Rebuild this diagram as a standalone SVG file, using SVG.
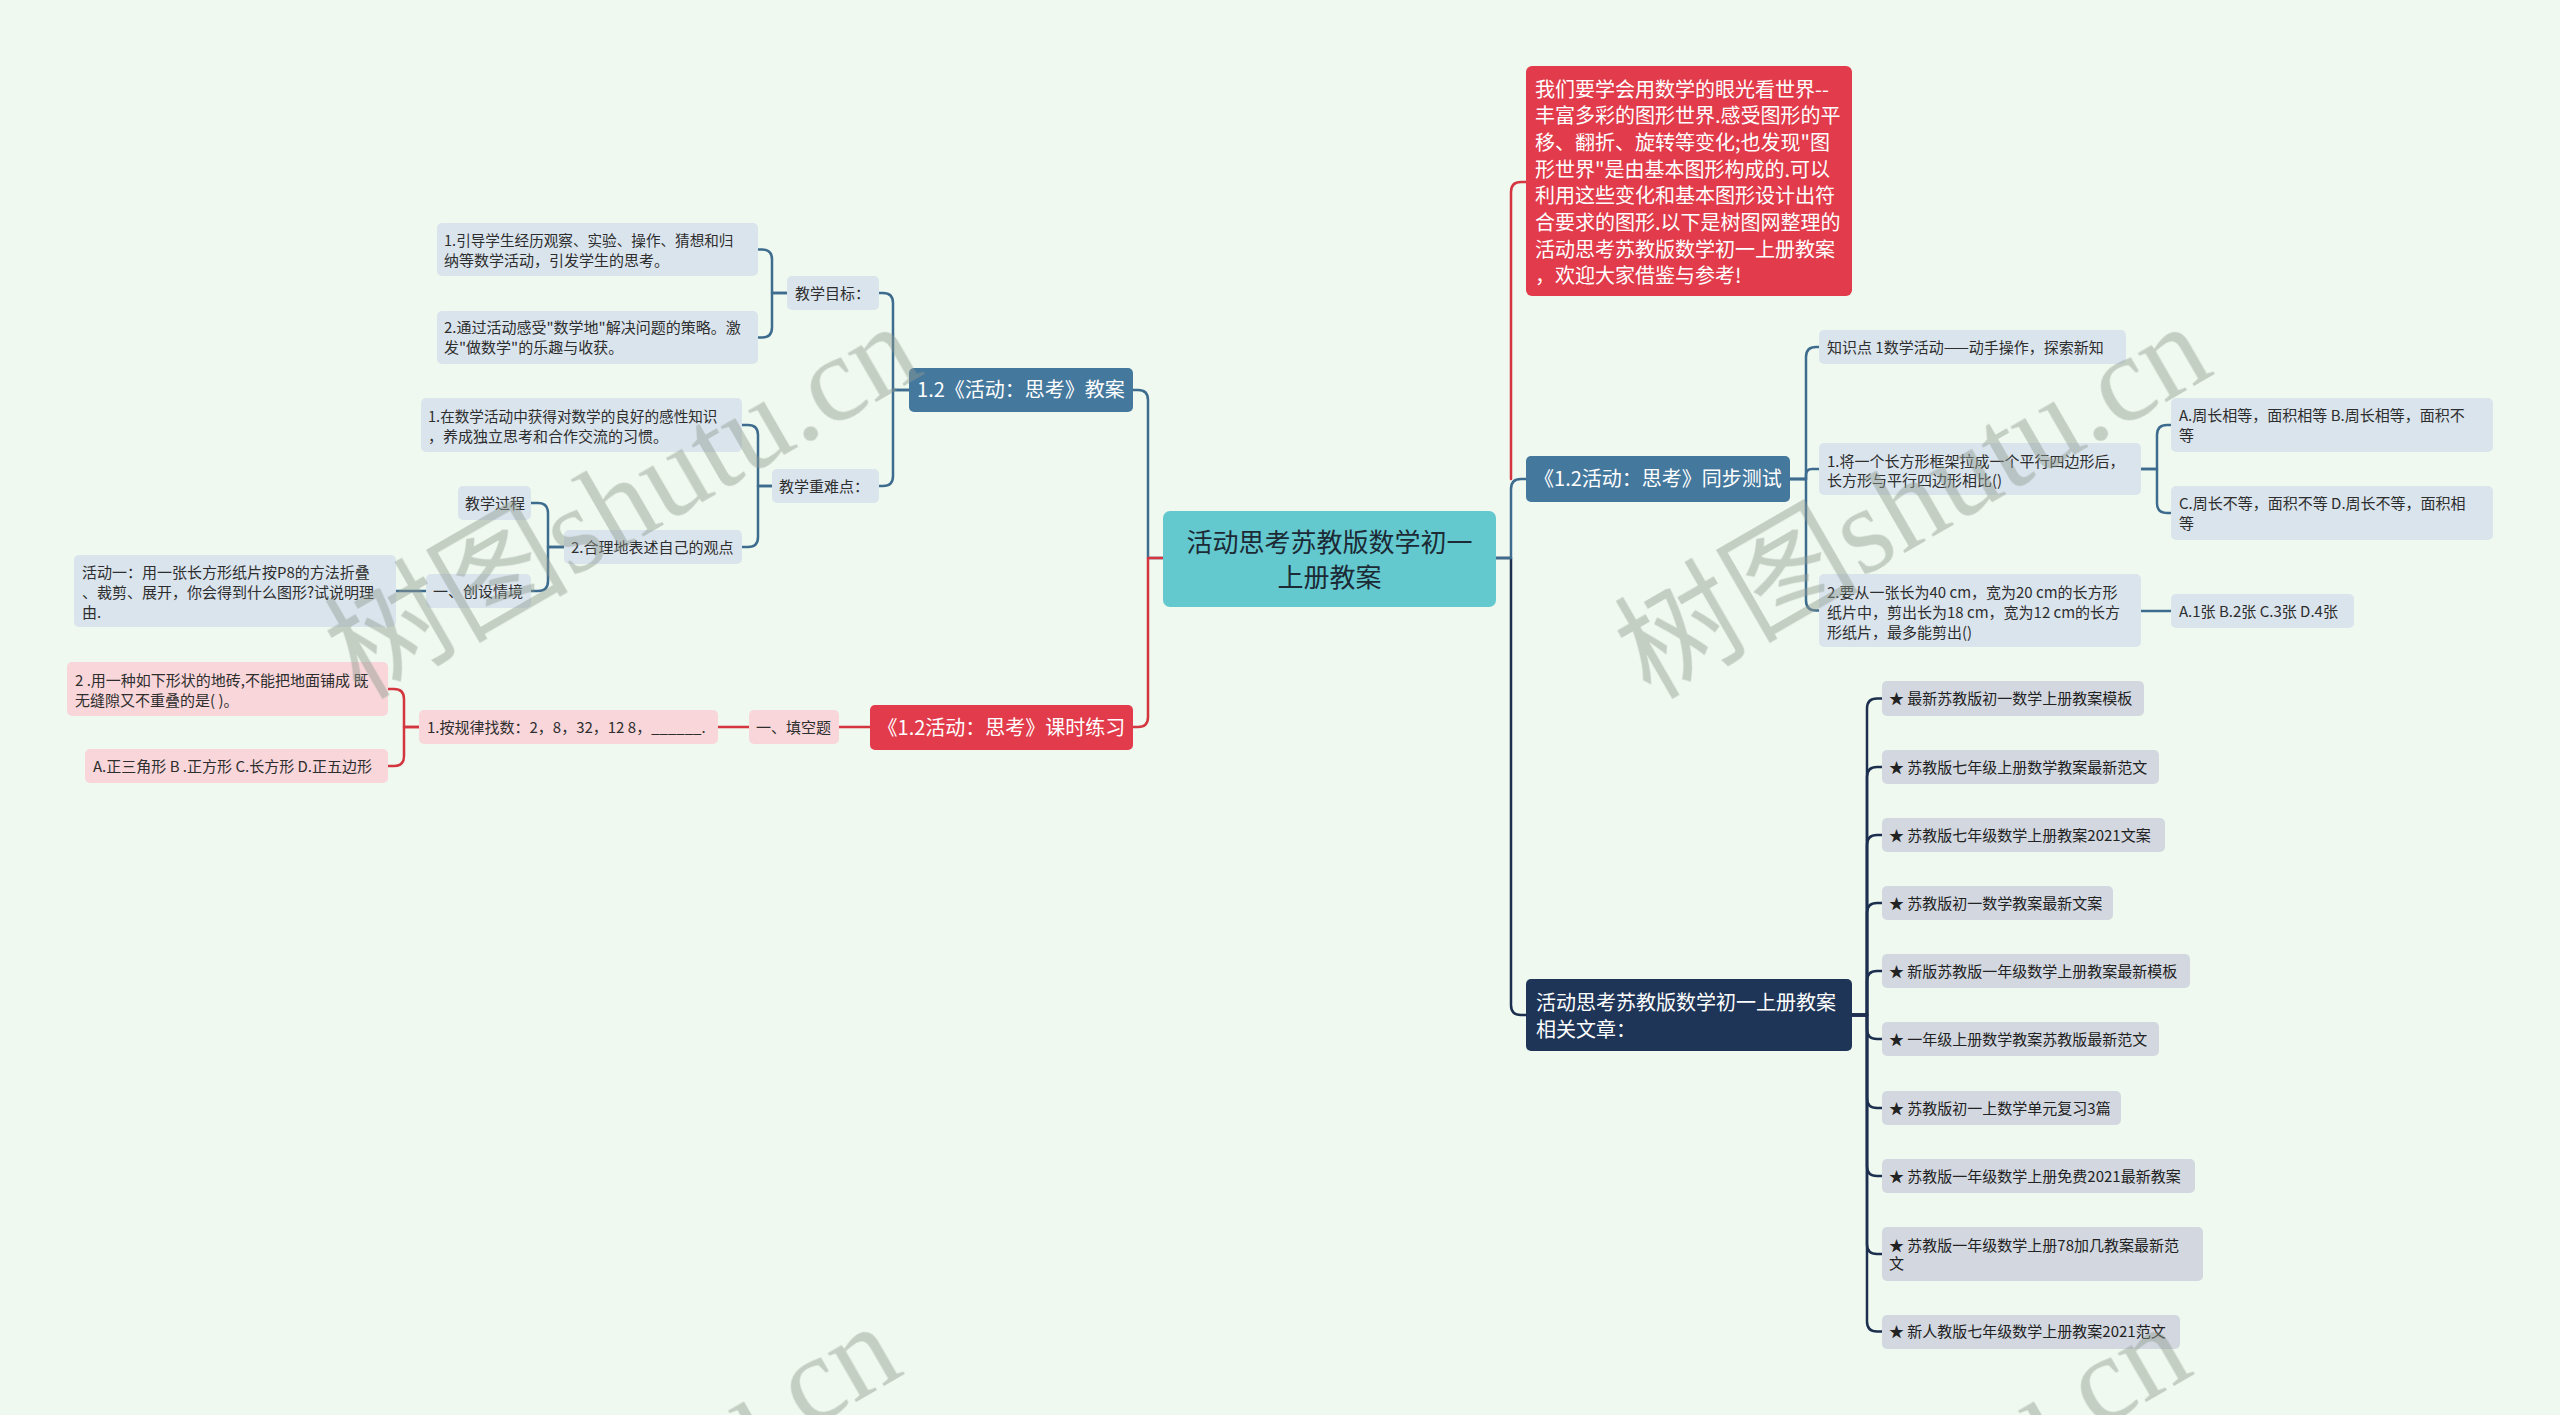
<svg xmlns="http://www.w3.org/2000/svg" width="2560" height="1415" viewBox="0 0 2560 1415">
<style>
text{font-family:"Noto Sans CJK SC","Noto Sans",sans-serif;}
.c{fill:none;stroke-width:2.5;stroke-linecap:round;stroke-linejoin:round;}
.cb{stroke:#3e6c8f;}
.cr{stroke:#d4363f;}
.cn{stroke:#1c2f4f;}
.leafb{fill:#dae4ed;}
.leafp{fill:#f8d6da;}
.leafg{fill:#d3d8e0;}
.t{font-size:15px;fill:#2e2e2e;}
.tn{font-size:14.6px;}
.ts{font-size:15px;fill:#222;}
.tw{font-size:20px;fill:#ffffff;}
.wm{font-family:"Liberation Serif","Noto Sans CJK SC",serif;font-size:122px;fill:#8f9a8f;}
</style>
<rect x="0" y="0" width="2560" height="1415" fill="#eff9ef"/>

<g id="connectors">
<path class="c cb" d="M1163,558 H1148 V400 Q1148,390 1138,390 H1133"/>
<path class="c cb" d="M909,390 H893 V303 Q893,293 883,293 H879"/>
<path class="c cb" d="M909,390 H893 V476 Q893,486 883,486 H879"/>
<path class="c cb" d="M787,293 H772 V259.5 Q772,249.5 762,249.5 H758"/>
<path class="c cb" d="M787,293 H772 V327.5 Q772,337.5 762,337.5 H758"/>
<path class="c cb" d="M772,486 H758 V435 Q758,425 748,425 H742"/>
<path class="c cb" d="M772,486 H758 V537 Q758,547 748,547 H742"/>
<path class="c cb" d="M564,547 H548 V513 Q548,503 538,503 H531"/>
<path class="c cb" d="M564,547 H548 V581 Q548,591 538,591 H531"/>
<path class="c cb" d="M426,591 H396"/>

<path class="c cr" d="M1163,558 H1148 V717 Q1148,727 1138,727 H1133"/>
<path class="c cr" d="M870,727 H839"/>
<path class="c cr" d="M749,727 H718"/>
<path class="c cr" d="M419,727 H404 V699 Q404,689 394,689 H388"/>
<path class="c cr" d="M419,727 H404 V756 Q404,766 394,766 H388"/>

<path class="c cn" d="M1496,558 H1511 V1005 Q1511,1015 1521,1015 H1526"/>
<path class="c cb" d="M1496,558 H1511 V489 Q1511,479 1521,479 H1526"/>
<path class="c cr" d="M1511,479 V192 Q1511,182 1521,182 H1526"/>
<path class="c cb" d="M1790,479 H1806 V357 Q1806,347 1816,347 H1819"/>
<path class="c cb" d="M1790,479 H1806 V475 Q1806,469 1812,469 H1819"/>
<path class="c cb" d="M1790,479 H1806 V600.5 Q1806,610.5 1816,610.5 H1819"/>
<path class="c cb" d="M2141,469 H2157 V435 Q2157,425 2167,425 H2171"/>
<path class="c cb" d="M2141,469 H2157 V503 Q2157,513 2167,513 H2171"/>
<path class="c cb" d="M2141,611 H2171"/>

<path class="c cn" d="M1852,1015 H1867 V708.5 Q1867,698.5 1877,698.5 H1882"/>
<path class="c cn" d="M1852,1015 H1867 V777 Q1867,767 1877,767 H1882"/>
<path class="c cn" d="M1852,1015 H1867 V845 Q1867,835 1877,835 H1882"/>
<path class="c cn" d="M1852,1015 H1867 V913 Q1867,903 1877,903 H1882"/>
<path class="c cn" d="M1852,1015 H1867 V981 Q1867,971 1877,971 H1882"/>
<path class="c cn" d="M1852,1015 H1867 V1029 Q1867,1039 1877,1039 H1882"/>
<path class="c cn" d="M1852,1015 H1867 V1098 Q1867,1108 1877,1108 H1882"/>
<path class="c cn" d="M1852,1015 H1867 V1166 Q1867,1176 1877,1176 H1882"/>
<path class="c cn" d="M1852,1015 H1867 V1244 Q1867,1254 1877,1254 H1882"/>
<path class="c cn" d="M1852,1015 H1867 V1321.5 Q1867,1331.5 1877,1331.5 H1882"/>
</g>

<g id="n-center">
<rect x="1163" y="511" width="333" height="96" rx="7" fill="#63c9cf"/>
<text x="1329.5" y="552" font-size="26" fill="#1c2a35" text-anchor="middle">活动思考苏教版数学初一</text>
<text x="1329.5" y="587" font-size="26" fill="#1c2a35" text-anchor="middle">上册教案</text>
</g>

<g id="n-intro">
<rect x="1526" y="66" width="326" height="230" rx="6" fill="#e23b4b"/>
<text class="tw" x="1535" y="96.5">我们要学会用数学的眼光看世界--</text>
<text class="tw" x="1535" y="123.2">丰富多彩的图形世界.感受图形的平</text>
<text class="tw" x="1535" y="149.9">移、翻折、旋转等变化;也发现"图</text>
<text class="tw" x="1535" y="176.6">形世界"是由基本图形构成的.可以</text>
<text class="tw" x="1535" y="203.3">利用这些变化和基本图形设计出符</text>
<text class="tw" x="1535" y="230">合要求的图形.以下是树图网整理的</text>
<text class="tw" x="1535" y="256.7">活动思考苏教版数学初一上册教案</text>
<text class="tw" x="1535" y="283.4">，欢迎大家借鉴与参考!</text>
</g>

<g id="n-test">
<rect x="1526" y="456" width="264" height="46" rx="5" fill="#45789d"/>
<text class="tw" x="1658" y="486" text-anchor="middle">《1.2活动：思考》同步测试</text>
</g>
<g id="n-test-k">
<rect class="leafb" x="1819" y="330" width="307" height="34" rx="5"/>
<text class="t" x="1827" y="352.5">知识点 1数学活动——动手操作，探索新知</text>
</g>
<g id="n-test-q1">
<rect class="leafb" x="1819" y="443" width="322" height="52" rx="5"/>
<text class="t" x="1827" y="466.5">1.将一个长方形框架拉成一个平行四边形后，</text>
<text class="t" x="1827" y="486">长方形与平行四边形相比()</text>
</g>
<g id="n-test-q1a">
<rect class="leafb" x="2171" y="398" width="322" height="54" rx="5"/>
<text class="t" x="2179" y="421">A.周长相等，面积相等 B.周长相等，面积不</text>
<text class="t" x="2179" y="441">等</text>
</g>
<g id="n-test-q1c">
<rect class="leafb" x="2171" y="486" width="322" height="54" rx="5"/>
<text class="t" x="2179" y="509">C.周长不等，面积不等 D.周长不等，面积相</text>
<text class="t" x="2179" y="529">等</text>
</g>
<g id="n-test-q2">
<rect class="leafb" x="1819" y="574" width="322" height="73" rx="5"/>
<text class="t" x="1827" y="598">2.要从一张长为40 cm，宽为20 cm的长方形</text>
<text class="t" x="1827" y="618">纸片中，剪出长为18 cm，宽为12 cm的长方</text>
<text class="t" x="1827" y="638">形纸片，最多能剪出()</text>
</g>
<g id="n-test-q2a">
<rect class="leafb" x="2171" y="594" width="183" height="34" rx="5"/>
<text class="t" x="2179" y="616.5">A.1张 B.2张 C.3张 D.4张</text>
</g>

<g id="n-related">
<rect x="1526" y="979" width="326" height="72" rx="5" fill="#1e3558"/>
<text class="tw" x="1536" y="1010">活动思考苏教版数学初一上册教案</text>
<text class="tw" x="1536" y="1037">相关文章：</text>
</g>
<g id="n-r1"><rect class="leafg" x="1882" y="681" width="262" height="35" rx="5"/><text class="ts" x="1889" y="704">★ 最新苏教版初一数学上册教案模板</text></g>
<g id="n-r2"><rect class="leafg" x="1882" y="750" width="277" height="34" rx="5"/><text class="ts" x="1889" y="772.5">★ 苏教版七年级上册数学教案最新范文</text></g>
<g id="n-r3"><rect class="leafg" x="1882" y="818" width="283" height="34" rx="5"/><text class="ts" x="1889" y="840.5">★ 苏教版七年级数学上册教案2021文案</text></g>
<g id="n-r4"><rect class="leafg" x="1882" y="886" width="231" height="34" rx="5"/><text class="ts" x="1889" y="908.5">★ 苏教版初一数学教案最新文案</text></g>
<g id="n-r5"><rect class="leafg" x="1882" y="954" width="308" height="34" rx="5"/><text class="ts" x="1889" y="976.5">★ 新版苏教版一年级数学上册教案最新模板</text></g>
<g id="n-r6"><rect class="leafg" x="1882" y="1022" width="277" height="34" rx="5"/><text class="ts" x="1889" y="1044.5">★ 一年级上册数学教案苏教版最新范文</text></g>
<g id="n-r7"><rect class="leafg" x="1882" y="1091" width="239" height="34" rx="5"/><text class="ts" x="1889" y="1113.5">★ 苏教版初一上数学单元复习3篇</text></g>
<g id="n-r8"><rect class="leafg" x="1882" y="1159" width="313" height="34" rx="5"/><text class="ts" x="1889" y="1181.5">★ 苏教版一年级数学上册免费2021最新教案</text></g>
<g id="n-r9"><rect class="leafg" x="1882" y="1227" width="321" height="54" rx="5"/><text class="ts" x="1889" y="1250.5">★ 苏教版一年级数学上册78加几教案最新范</text><text class="ts" x="1889" y="1268.5">文</text></g>
<g id="n-r10"><rect class="leafg" x="1882" y="1315" width="298" height="34" rx="5"/><text class="ts" x="1889" y="1337">★ 新人教版七年级数学上册教案2021范文</text></g>

<g id="n-plan">
<rect x="909" y="368" width="224" height="44" rx="5" fill="#45789d"/>
<text class="tw" x="1021" y="397" text-anchor="middle">1.2《活动：思考》教案</text>
</g>
<g id="n-goal">
<rect class="leafb" x="787" y="276" width="92" height="34" rx="5"/>
<text class="t" x="795" y="298.5">教学目标：</text>
</g>
<g id="n-goal1">
<rect class="leafb" x="437" y="223" width="321" height="53" rx="5"/>
<text class="t tn" x="444" y="246">1.引导学生经历观察、实验、操作、猜想和归</text>
<text class="t" x="444" y="266">纳等数学活动，引发学生的思考。</text>
</g>
<g id="n-goal2">
<rect class="leafb" x="437" y="311" width="321" height="53" rx="5"/>
<text class="t" x="444" y="333">2.通过活动感受"数学地"解决问题的策略。激</text>
<text class="t" x="444" y="353">发"做数学"的乐趣与收获。</text>
</g>
<g id="n-key">
<rect class="leafb" x="772" y="469" width="107" height="34" rx="5"/>
<text class="t" x="779" y="491.5">教学重难点：</text>
</g>
<g id="n-key1">
<rect class="leafb" x="421" y="398" width="321" height="54" rx="5"/>
<text class="t tn" x="428" y="422">1.在数学活动中获得对数学的良好的感性知识</text>
<text class="t" x="428" y="442">，养成独立思考和合作交流的习惯。</text>
</g>
<g id="n-key2">
<rect class="leafb" x="564" y="530" width="178" height="34" rx="5"/>
<text class="t" x="571" y="552.5">2.合理地表述自己的观点</text>
</g>
<g id="n-process">
<rect class="leafb" x="458" y="486" width="73" height="34" rx="5"/>
<text class="t" x="465" y="508.5">教学过程</text>
</g>
<g id="n-scene">
<rect class="leafb" x="426" y="574" width="105" height="34" rx="5"/>
<text class="t" x="433" y="596.5">一、创设情境</text>
</g>
<g id="n-act1">
<rect class="leafb" x="74" y="555" width="322" height="72" rx="5"/>
<text class="t" x="82" y="578">活动一：用一张长方形纸片按P8的方法折叠</text>
<text class="t" x="82" y="598">、裁剪、展开，你会得到什么图形?试说明理</text>
<text class="t" x="82" y="618">由.</text>
</g>

<g id="n-practice">
<rect x="870" y="705" width="263" height="45" rx="5" fill="#e23b4b"/>
<text class="tw" x="1001.5" y="734.5" text-anchor="middle">《1.2活动：思考》课时练习</text>
</g>
<g id="n-fill">
<rect class="leafp" x="749" y="710" width="90" height="34" rx="5"/>
<text class="t" x="756" y="732.5">一、填空题</text>
</g>
<g id="n-fill1">
<rect class="leafp" x="419" y="710" width="299" height="34" rx="5"/>
<text class="t" x="427" y="732.5">1.按规律找数：2，8，32，12 8，______.</text>
</g>
<g id="n-fill2">
<rect class="leafp" x="67" y="662" width="321" height="54" rx="5"/>
<text class="t" x="75" y="686">2 .用一种如下形状的地砖,不能把地面铺成 既</text>
<text class="t" x="75" y="706">无缝隙又不重叠的是( )。</text>
</g>
<g id="n-fill3">
<rect class="leafp" x="85" y="749" width="303" height="34" rx="5"/>
<text class="t" x="93" y="771.5">A.正三角形 B .正方形 C.长方形 D.正五边形</text>
</g>

<g id="watermarks" opacity="0.45">
<text class="wm" transform="translate(360,700) rotate(-30)">树图shutu.cn</text>
<text class="wm" transform="translate(1650,700) rotate(-30)">树图shutu.cn</text>
<text class="wm" transform="translate(340,1700) rotate(-30)">树图shutu.cn</text>
<text class="wm" transform="translate(1630,1700) rotate(-30)">树图shutu.cn</text>
</g>
</svg>
